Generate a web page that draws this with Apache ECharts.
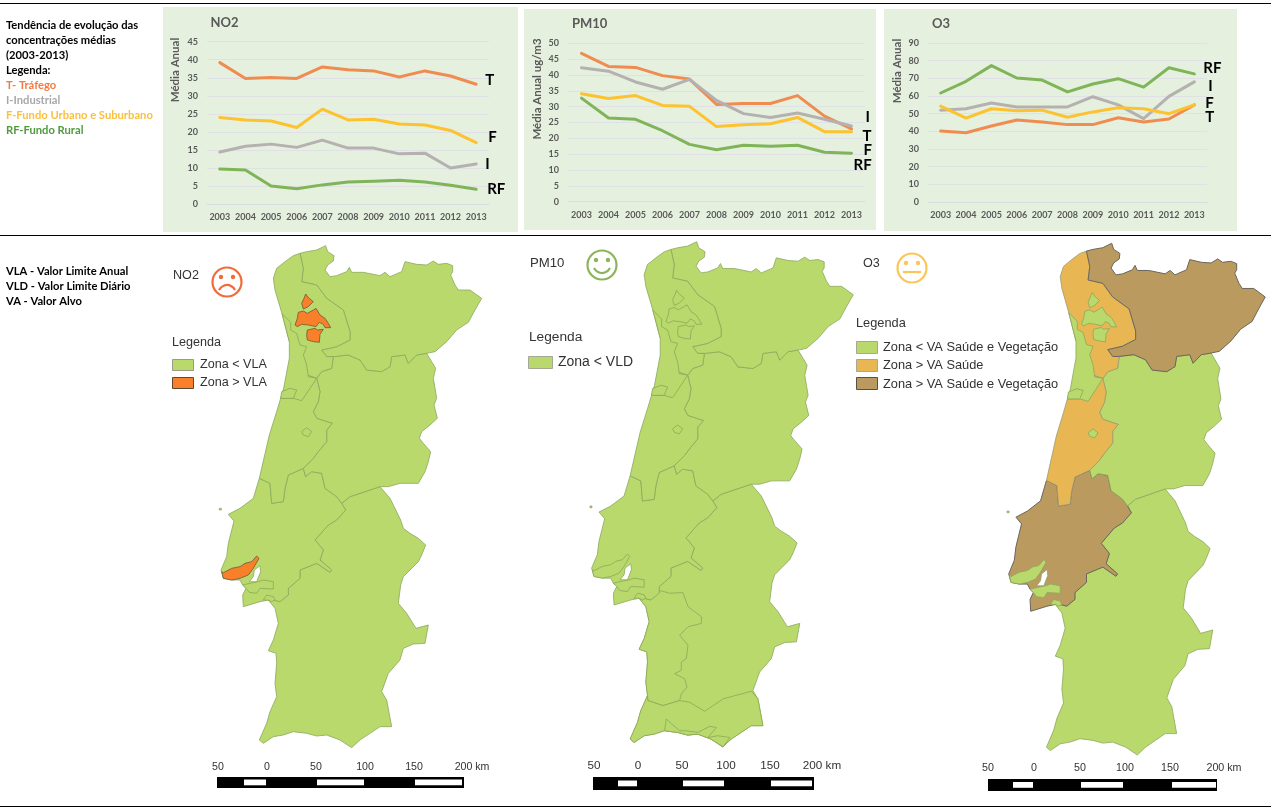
<!DOCTYPE html>
<html><head><meta charset="utf-8"><title>Qualidade do ar</title>
<style>html,body{margin:0;padding:0;background:#fff}#c{width:1271px;height:811px}</style>
<script src="https://cdn.jsdelivr.net/npm/echarts@6/dist/echarts.min.js"></script></head>
<body><div id="c"></div>
<script>
// ---------- chart data ----------
const years = ['2003','2004','2005','2006','2007','2008','2009','2010','2011','2012','2013'];
const no2T  = [39.2,34.8,35.1,34.8,38,37.2,36.9,35.2,36.9,35.5,33.2];
const no2I  = [14.4,16,16.6,15.7,17.7,15.5,15.5,13.9,14.1,10,11.1];
const no2F  = [24,23.3,23,21.2,26.3,23.3,23.5,22.2,21.9,20.4,17];
const no2RF = [9.7,9.4,5,4.2,5.3,6.1,6.3,6.6,6.1,5.2,4.1];
const pmT   = [46.8,42.7,42.4,39.8,38.7,30.7,31,31,33.5,27,23];
const pmI   = [42.3,41.2,37.8,35.5,38.6,32,27.8,26.6,28,26,23.9];
const pmF   = [34.1,32.6,33.5,30.4,30.1,23.7,24.3,24.6,26.6,22.1,22.1];
const pmRF  = [32.7,26.4,26,22.4,18.1,16.4,17.8,17.5,17.8,15.6,15.3];
const o3T   = [40.2,39.2,43,46.4,45.3,43.8,43.8,47.7,45.3,47,55];
const o3I   = [52,52.8,56,53.8,53.8,53.8,59.6,55,47.2,59.8,68];
const o3F   = [54.3,47.5,52.8,51.7,52,48,51,53.4,52.8,50,55];
const o3RF  = [61.7,68.3,77.2,70.2,69,62.3,66.8,69.8,65,76,72.5];

// ---------- map outlines (map units, y grows southward) ----------
const norteInterior = [[420,55],[440,50],[470,45],[497,32],[503,50],[522,62],[520,78],[503,90],[495,105],[510,125],[530,122],[560,110],[568,97],[575,112],[610,112],[660,122],[675,112],[690,125],[725,110],[735,80],[770,88],[800,90],[820,78],[835,88],[860,85],[878,92],[878,110],[872,120],[885,150],[895,165],[930,165],[965,190],[945,225],[925,262],[890,285],[860,320],[825,350],[800,355],[770,360],[745,385],[735,360],[695,365],[690,395],[665,410],[620,405],[600,375],[565,360],[520,365],[500,365],[485,345],[530,335],[570,315],[570,290],[550,225],[500,190],[470,150],[425,140],[430,100]];
const norteLitoral = [[340,130],[350,100],[375,80],[400,62],[420,55],[430,100],[425,140],[470,150],[500,190],[550,225],[570,290],[570,315],[530,335],[485,345],[500,365],[520,365],[515,400],[485,410],[470,430],[440,420],[420,380],[400,320],[388,320],[366,236],[345,165]];
const centroInterior = [[520,365],[565,360],[600,375],[620,405],[665,410],[690,395],[695,365],[735,360],[745,385],[770,360],[800,355],[815,380],[827,400],[820,430],[825,460],[830,490],[822,510],[832,550],[810,570],[785,590],[778,610],[790,625],[812,650],[805,680],[795,710],[775,745],[720,745],[685,755],[660,755],[600,775],[570,785],[545,805],[530,785],[495,760],[485,715],[455,710],[437,725],[430,700],[460,670],[475,650],[500,620],[500,585],[517,565],[500,560],[470,550],[460,530],[475,500],[480,470],[470,430],[485,410],[515,400]];
const centroLitoral = [[470,430],[480,470],[475,500],[460,530],[470,550],[500,560],[517,565],[500,585],[500,620],[475,650],[460,670],[430,700],[385,720],[375,760],[370,800],[335,805],[330,745],[298,730],[328,600],[350,530],[362,490],[370,465],[390,450],[440,420]];
const valeTejo = [[298,730],[330,745],[335,805],[370,800],[375,760],[385,720],[430,700],[437,725],[455,710],[485,715],[495,760],[530,785],[545,805],[557,825],[530,855],[505,870],[465,915],[490,945],[480,975],[515,1005],[510,1012],[470,985],[420,1005],[420,1030],[385,1060],[385,1080],[360,1100],[340,1095],[325,1095],[300,1100],[250,1115],[248,1080],[258,1060],[248,1050],[240,1035],[215,1035],[190,1030],[183,1005],[200,965],[205,925],[222,858],[205,838],[240,820],[280,790]];
const alentejo = [[545,805],[570,785],[600,775],[660,755],[690,790],[722,855],[730,880],[750,895],[775,910],[797,930],[785,960],[775,980],[730,1025],[722,1050],[715,1105],[740,1135],[768,1180],[805,1170],[795,1225],[760,1227],[730,1240],[720,1275],[685,1315],[665,1370],[680,1395],[695,1475],[660,1475],[630,1495],[600,1515],[575,1538],[540,1515],[500,1500],[470,1503],[440,1495],[400,1490],[370,1500],[340,1505],[310,1525],[298,1515],[320,1465],[330,1430],[350,1385],[345,1345],[350,1285],[348,1255],[325,1247],[340,1215],[355,1165],[345,1120],[325,1095],[340,1095],[360,1100],[385,1080],[385,1060],[420,1030],[420,1005],[470,985],[510,1012],[515,1005],[480,975],[490,945],[465,915],[505,870],[530,855],[557,825]];
const alentejoLitoral = [[388,1072],[416,1080],[456,1078],[471,1120],[511,1150],[511,1170],[471,1180],[446,1205],[471,1235],[466,1275],[451,1285],[451,1310],[431,1320],[461,1335],[468,1360],[451,1380],[446,1400],[396,1415],[351,1400],[350,1385],[345,1345],[350,1285],[348,1255],[325,1247],[340,1215],[355,1165],[345,1120],[325,1095],[340,1095],[360,1100]];
const algarve = [[351,1400],[396,1415],[446,1400],[476,1405],[521,1432],[576,1395],[661,1372],[680,1395],[695,1475],[660,1475],[630,1495],[600,1515],[575,1538],[540,1515],[500,1500],[470,1503],[440,1495],[400,1490],[370,1500],[340,1505],[310,1525],[298,1515],[320,1465],[330,1430],[350,1385]];
const algarveSul = [[401,1490],[406,1455],[425,1472],[446,1490],[466,1490],[500,1495],[536,1477],[556,1480],[531,1510],[560,1505],[596,1510],[576,1538],[540,1515],[500,1500],[470,1503],[440,1495]];
const litoral = [[366,236],[392,262],[392,285],[410,295],[420,330],[440,335],[430,360],[440,390],[445,425],[470,430],[450,460],[425,497],[400,490],[362,490],[370,465],[388,370],[388,320]];
const aveiro = [[365,470],[390,460],[410,465],[400,490],[362,490]];
const ave = [[437,177],[447,190],[460,200],[445,215],[430,222],[425,205],[432,190]];
const porto = [[405,270],[412,250],[415,232],[430,228],[442,235],[460,225],[468,220],[480,240],[495,250],[505,265],[512,278],[495,278],[490,268],[478,262],[468,275],[445,270],[425,268],[412,275]];
const sousa = [[442,285],[465,280],[472,285],[490,283],[480,298],[478,322],[460,320],[442,315],[440,300]];
const coimbra = [[425,590],[440,578],[455,590],[445,605],[430,600]];
const lisboa = [[185,1010],[190,1030],[215,1035],[240,1030],[265,1020],[280,1000],[297,970],[290,963],[275,980],[255,985],[240,995],[215,1000],[190,1013]];
const setubal = [[248,1050],[270,1045],[295,1040],[310,1035],[340,1040],[340,1062],[300,1060],[290,1075],[268,1072],[258,1060]];
const sado = [[310,1095],[320,1080],[340,1085],[345,1095],[335,1100],[325,1095]];
const estuario = [[268,1040],[280,1025],[283,1005],[300,992],[302,1010],[290,1040]];
const berlengas = [[178,820],[184,820],[184,825],[178,825]];

// ---------- text ----------
const leftTop = ['Tendência de evolução das','concentrações médias','(2003-2013)','Legenda:'];
const leftKey = ['T- Tráfego','I-Industrial','F-Fundo Urbano e Suburbano','RF-Fundo Rural'];
const leftBottom = ['VLA - Valor Limite Anual','VLD - Valor Limite Diário','VA - Valor Alvo'];
const scaleTicks = ['50','0','50','100','150','200 km'];

// ---------- styles ----------
const cT='#ef8c50', cI='#b5b1b0', cF='#fcc22f', cRF='#7fb458';
const green='#b9d96d', orange='#fa7f2a', sand='#e8b652', brown='#bb9a5f';
const txt='#595959', sans='"Liberation Sans",Arial,sans-serif';

function mkSeries(idx, name, data, color, lab, dx, dy){
  return {type:'line', name, data, xAxisIndex:idx, yAxisIndex:idx, symbol:'none', smooth:false, silent:true,
    lineStyle:{color, width:3, cap:'round', join:'round'},
    markPoint:{silent:true, symbol:'circle', symbolSize:0, animation:false,
      data:[{coord:['2013', data[data.length-1]],
        label:{show:true, formatter:lab, position:'right', distance:0, offset:[dx,dy],
          color:'#000', fontFamily:'Lato', fontWeight:'bold', fontSize:15}}]}};
}
const grids=[
  {left:207,width:282,top:41.7,height:162.3},
  {left:568,width:297,top:43.3,height:158.4},
  {left:928,width:279,top:43,height:159}
];
const axMax=[[45,5],[50,5],[90,10]];
const series=[
  mkSeries(0,'T',no2T,cT,'T',9,-4.5), mkSeries(0,'I',no2I,cI,'I',9,0), mkSeries(0,'F',no2F,cF,'F',12,-6), mkSeries(0,'RF',no2RF,cRF,'RF',11,0),
  mkSeries(1,'T',pmT,cT,'T',11,7.2), mkSeries(1,'I',pmI,cI,'I',14,-9.3), mkSeries(1,'F',pmF,cF,'F',12,18.3), mkSeries(1,'RF',pmRF,cRF,'RF',2,11.8),
  mkSeries(2,'T',o3T,cT,'T',11,12.5), mkSeries(2,'I',o3I,cI,'I',14,4), mkSeries(2,'F',o3F,cF,'F',11,-2), mkSeries(2,'RF',o3RF,cRF,'RF',9,-5.9)
];

// ---------- maps ----------
function feat(name,pts){return {type:'Feature',properties:{name},geometry:{type:'Polygon',coordinates:[pts.concat([pts[0]]).map(p=>[p[0],-p[1]])]}};}
const mapNO2=[['alentejo',alentejo,green],['valeTejo',valeTejo,green],['centroInterior',centroInterior,green],['norteInterior',norteInterior,green],['norteLitoral',norteLitoral,green],['centroLitoral',centroLitoral,green],['litoral',litoral,green],['aveiro',aveiro,green],['coimbra',coimbra,green],['ave',ave,orange],['porto',porto,orange],['sousa',sousa,orange],['setubal',setubal,green],['sado',sado,green],['estuario',estuario,'#fff'],['lisboa',lisboa,orange],['berlengas',berlengas,green]];
const mapPM=[['alentejo',alentejo,green],['alentejoLitoral',alentejoLitoral,green],['algarve',algarve,green],['algarveSul',algarveSul,green],['valeTejo',valeTejo,green],['centroInterior',centroInterior,green],['norteInterior',norteInterior,green],['norteLitoral',norteLitoral,green],['centroLitoral',centroLitoral,green],['litoral',litoral,green],['aveiro',aveiro,green],['coimbra',coimbra,green],['ave',ave,green],['porto',porto,green],['sousa',sousa,green],['setubal',setubal,green],['sado',sado,green],['estuario',estuario,'#fff'],['lisboa',lisboa,green],['berlengas',berlengas,green]];
const mapO3=[['alentejo',alentejo,green],['valeTejo',valeTejo,brown],['centroInterior',centroInterior,green],['norteLitoral',norteLitoral,sand],['norteInterior',norteInterior,brown],['centroLitoral',centroLitoral,sand],['litoral',litoral,green],['aveiro',aveiro,green],['coimbra',coimbra,green],['ave',ave,green],['porto',porto,green],['sousa',sousa,green],['setubal',setubal,green],['sado',sado,green],['estuario',estuario,'#fff'],['lisboa',lisboa,green],['berlengas',berlengas,green]];

function mkGeo(id,list,x0,y0,sx,sy){
  echarts.registerMap(id,{type:'FeatureCollection',features:list.map(r=>feat(r[0],r[1]))});
  let xs=[],ys=[]; list.forEach(r=>r[1].forEach(p=>{xs.push(p[0]);ys.push(p[1]);}));
  const a=Math.min(...xs),b=Math.max(...xs),c=Math.min(...ys),d=Math.max(...ys);
  return {map:id,silent:true,roam:false,left:x0+a*sx,top:y0+c*sy,width:(b-a)*sx,height:(d-c)*sy,aspectScale:sx/sy,
    label:{show:false},emphasis:{disabled:true},select:{disabled:true},
    itemStyle:{areaColor:green,borderColor:'#8aa85a',borderWidth:0.8},
    regions:list.map(r=>({name:r[0],silent:true,itemStyle:{areaColor:r[2],
      borderColor:r[2]==='#fff'?'#8aa85a':(r[2]===brown?'#6a665c':(r[2]===sand?'#9c9a72':(r[2]===orange?'#6b5a3c':'#8aa85a'))),borderWidth:r[2]===brown?1:0.8}}))};
}
const geos=[mkGeo('m1',mapNO2,160,235,1/3,1/3),mkGeo('m2',mapPM,530.4,231,0.3346,0.3354),mkGeo('m3',mapO3,948.7,232.4,0.328,0.3398)];

// ---------- graphics ----------
const g=[];
function rect(x,y,w,h,fill,stroke,z){g.push({type:'rect',silent:true,z:z==null?1:z,shape:{x,y,width:w,height:h},style:{fill,stroke:stroke||null,lineWidth:stroke?1:0}});}
function text(s,x,y,font,fill,opt){opt=opt||{};g.push({type:'text',silent:true,z:5,x,y,rotation:opt.rot||0,style:{text:s,font,fill,align:opt.align||'left',verticalAlign:'middle'}});}
// rules
rect(0,3,1271,1,'#000'); rect(0,235,1271,1,'#000'); rect(0,806,1271,1,'#000');
// panels
const panel='#e6f0df';
rect(163,7,355,225,panel,null,-10); rect(524,9,352,221,panel,null,-10); rect(884,9,353,222,panel,null,-10);
// left texts
const lf='bold 11.2px Lato';
leftTop.forEach((s,i)=>text(s,6,25+15*i,lf,'#000'));
const keyCol=['#f47a42','#a8a8a8','#fbbf3e','#4f9a3c'];
leftKey.forEach((s,i)=>text(s,6,85+15*i,lf,keyCol[i]));
leftBottom.forEach((s,i)=>text(s,6,271+15*i,lf,'#000'));
// axis names
const rot=Math.PI/2;
text('Média Anual',175.7,70,'bold 11.5px Lato',txt,{rot,align:'center'});
text('Média Anual ug/m3',537,89,'bold 11.5px Lato',txt,{rot,align:'center'});
text('Média Anual',897,71,'bold 11.5px Lato',txt,{rot,align:'center'});
// faces
function face(cx,cy,col,kind){
  g.push({type:'circle',silent:true,z:5,shape:{cx,cy,r:14.5},style:{fill:'none',stroke:col,lineWidth:2.2}});
  [-6,6].forEach(d=>g.push({type:'circle',silent:true,z:5,shape:{cx:cx+d,cy:cy-5,r:2.2},style:{fill:col}}));
  if(kind==='sad') g.push({type:'arc',silent:true,z:5,shape:{cx,cy:cy+12,r:9,startAngle:Math.PI*1.15,endAngle:Math.PI*1.85},style:{fill:'none',stroke:col,lineWidth:2.2}});
  if(kind==='happy') g.push({type:'arc',silent:true,z:5,shape:{cx,cy:cy-1,r:9,startAngle:Math.PI*0.15,endAngle:Math.PI*0.85},style:{fill:'none',stroke:col,lineWidth:2.2}});
  if(kind==='flat') g.push({type:'line',silent:true,z:5,shape:{x1:cx-9,y1:cy+4,x2:cx+9,y2:cy+4},style:{stroke:col,lineWidth:2.2}});
}
face(227,282,'#f26a3a','sad'); face(602,265,'#8db45b','happy'); face(912,268,'#fbc658','flat');
// map titles and legends
const lc='#333';
text('NO2',173,276,'12.6px '+sans,lc);
text('Legenda',172,343,'12.6px '+sans,lc);
rect(172.5,359.5,21,11,green,'#9a9a8a'); text('Zona < VLA',200,365,'12.6px '+sans,lc);
rect(172.5,377.5,21,11,orange,'#5d4a35'); text('Zona > VLA',200,383,'12.6px '+sans,lc);
text('PM10',530,263,'13.2px '+sans,lc);
text('Legenda',529,337,'13.7px '+sans,lc);
rect(528.5,356.5,24,12,green,'#a4a896'); text('Zona < VLD',558,362,'14px '+sans,lc);
text('O3',863,264,'12.6px '+sans,lc);
text('Legenda',856,323,'12.8px '+sans,lc);
rect(856.5,341.5,21,12,green,'#a4a896'); text('Zona < VA Saúde e Vegetação',883,347,'12.8px '+sans,lc);
rect(856.5,359.5,21,12,sand,'#a4a896'); text('Zona > VA Saúde',883,365,'12.8px '+sans,lc);
rect(856.5,377.5,21,12,brown,'#5a5040'); text('Zona > VA Saúde e Vegetação',883,384,'12.8px '+sans,lc);
// scale bars
function bar(x,w,y,h,holes,labY,labX,fs){
  rect(x,y,w,h,'#000');
  holes.forEach(a=>rect(a[0],y+h/2-3,a[1],5.8,'#fff'));
  scaleTicks.forEach((s,i)=>text(s,labX[i],labY,fs+'px '+sans,'#333',{align:'center'}));
}
bar(217,247,777,11,[[244,22],[317,47],[415,47]],767,[218,267,316,365,414,472],10.6);
bar(593,221,777,13,[[618,19],[683,41],[771,41]],766,[594,638,682,726,770,822],11.7);
bar(988,229,779,12,[[1013,20],[1081,42],[1172,44]],768,[988,1034,1080,1125,1170,1224],10.7);

const option={
  animation:false, backgroundColor:'#fff',
  title:[
    {text:'NO2',left:210.5,top:16,padding:0,textStyle:{fontFamily:'Lato',fontWeight:'bold',fontSize:13,color:txt}},
    {text:'PM10',left:572,top:17.5,padding:0,textStyle:{fontFamily:'Lato',fontWeight:'bold',fontSize:13,color:txt}},
    {text:'O3',left:932,top:17.5,padding:0,textStyle:{fontFamily:'Lato',fontWeight:'bold',fontSize:13,color:txt}}
  ],
  grid:grids,
  xAxis:grids.map((_,i)=>({gridIndex:i,type:'category',data:years,axisTick:{show:false},
    axisLine:{lineStyle:{color:'#d9dce0',width:1}},
    axisLabel:{interval:0,margin:9,color:txt,fontFamily:'Lato',fontWeight:'bold',fontSize:9}})),
  yAxis:grids.map((_,i)=>({gridIndex:i,type:'value',min:0,max:axMax[i][0],interval:axMax[i][1],
    axisTick:{show:false},axisLine:{show:false},
    splitLine:{lineStyle:{color:'#dfe1e6',width:1}},
    axisLabel:{margin:9,color:txt,fontFamily:'Lato',fontWeight:'bold',fontSize:9}})),
  geo:geos,
  series,
  graphic:{elements:g}
};
const chart=echarts.init(document.getElementById('c'),null,{renderer:'canvas'});
chart.setOption(option);
</script></body></html>
